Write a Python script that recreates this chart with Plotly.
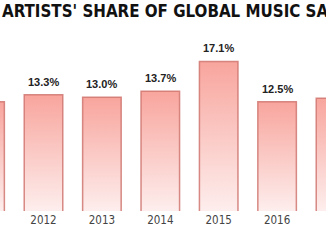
import plotly.graph_objects as go

years = [2011, 2012, 2013, 2014, 2015, 2016, 2017]
shares = [12.5, 13.3, 13.0, 13.7, 17.1, 12.5, 12.9]
labels = ["12.5%", "13.3%", "13.0%", "13.7%", "17.1%", "12.5%", "12.9%"]
title_text = "ARTISTS' SHARE OF GLOBAL MUSIC SALES"

bar_w = 0.66
fig = go.Figure()
for yr, v in zip(years, shares):
    fig.add_trace(go.Scatter(
        x=[yr - bar_w / 2, yr - bar_w / 2, yr + bar_w / 2, yr + bar_w / 2],
        y=[0, v, v, 0],
        mode="lines",
        fill="toself",
        line=dict(color="rgba(208,118,112,0.85)", width=1.5),
        fillgradient=dict(type="vertical",
                          colorscale=[[0, "#fdeeed"], [1, "#f8a59d"]]),
        hoverinfo="skip",
        showlegend=False,
    ))

for yr, v, t in zip(years, shares, labels):
    fig.add_annotation(x=yr, y=v, text=t, showarrow=False, yanchor="bottom",
                       yshift=5, font=dict(family="Liberation Sans, Arial", size=11,
                                           color="#222222", weight="bold"))

fig.add_annotation(xref="paper", yref="paper", x=0, y=1, xanchor="left", yanchor="top",
                   yshift=1, text=title_text, showarrow=False,
                   font=dict(family="DejaVu Sans Condensed", size=16.8,
                             color="#111111", weight="bold"))

px_per_year = 58.4
x0 = 2012 - 43.5 / px_per_year
x1 = x0 + 326 / px_per_year

fig.update_layout(
    width=326, height=243,
    margin=dict(l=0, r=0, t=0, b=32),
    paper_bgcolor="white", plot_bgcolor="white",
    xaxis=dict(range=[x0, x1], showgrid=False, zeroline=False, showline=False,
               tickmode="array", tickvals=years, ticktext=[str(y) for y in years],
               ticks="", ticklen=0,
               tickfont=dict(family="DejaVu Sans Condensed", size=11.5, color="#444444")),
    yaxis=dict(range=[0, 211 / 8.75], visible=False),
)

fig.write_html("out.html")
